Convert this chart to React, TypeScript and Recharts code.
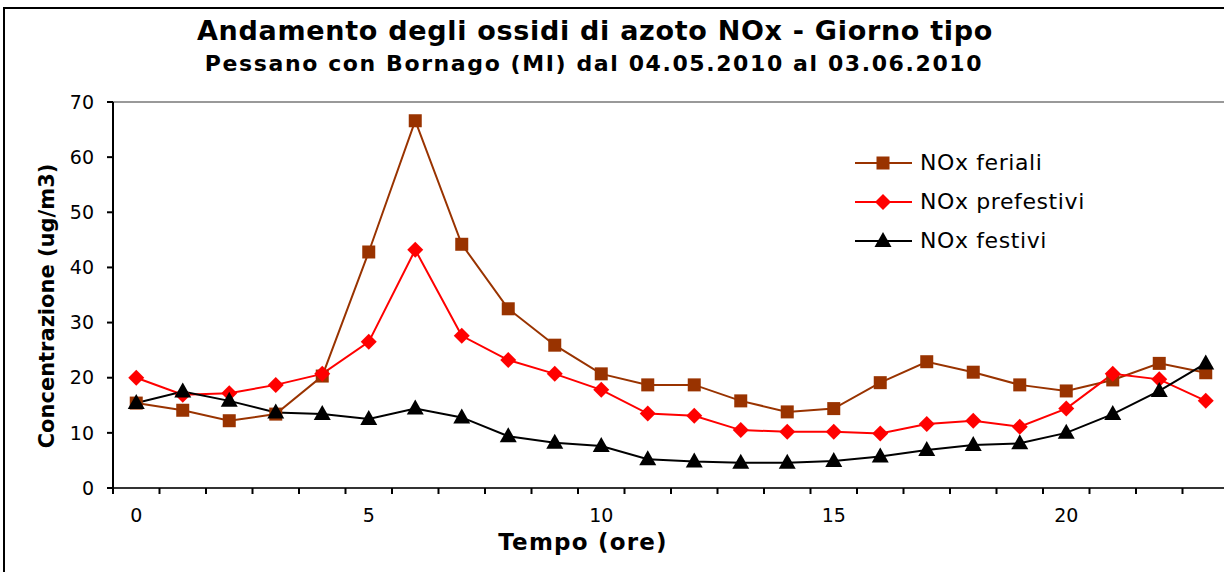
import { LineChart, Line, XAxis, YAxis, ReferenceLine, Legend, Label } from "recharts";

const hours = [0, 1, 2, 3, 4, 5, 6, 7, 8, 9, 10, 11, 12, 13, 14, 15, 16, 17, 18, 19, 20, 21, 22, 23];
const feriali = [15.4, 14.1, 12.2, 13.4, 20.3, 42.8, 66.6, 44.2, 32.5, 25.9, 20.7, 18.7, 18.7, 15.8, 13.8, 14.4, 19.1, 22.9, 21.0, 18.7, 17.6, 19.6, 22.6, 20.9];
const prefestivi = [20.0, 16.9, 17.2, 18.7, 20.7, 26.5, 43.2, 27.6, 23.2, 20.7, 17.8, 13.5, 13.1, 10.5, 10.2, 10.2, 9.9, 11.6, 12.2, 11.1, 14.4, 20.7, 19.7, 15.8];
const festivi = [15.4, 17.5, 15.8, 13.7, 13.4, 12.5, 14.4, 12.8, 9.4, 8.2, 7.6, 5.2, 4.8, 4.6, 4.6, 4.9, 5.7, 6.9, 7.8, 8.1, 10.0, 13.4, 17.6, 22.6];
const xTickLabels = [0, 5, 10, 15, 20];
const yTicks = [0, 10, 20, 30, 40, 50, 60, 70];

const seriesOrder = ["feriali", "prefestivi", "festivi"];
const seriesNames: Record<string, string> = {
  feriali: "NOx feriali",
  prefestivi: "NOx prefestivi",
  festivi: "NOx festivi",
};

const data = hours.map((h, i) => ({
  hour: h,
  feriali: feriali[i],
  prefestivi: prefestivi[i],
  festivi: festivi[i],
}));

// tick marks sit between hours, like Excel's category axis
const boundaries = [...hours.map((h) => h - 0.5), hours[hours.length - 1] + 0.5];
const xTicks = [...boundaries, ...xTickLabels].sort((a, b) => a - b);

const FONT = '"DejaVu Sans", Verdana, sans-serif';
const BROWN = "#993300";
const RED = "#ff0000";

function Marker({ kind, cx, cy }: { kind: string; cx: number; cy: number }) {
  if (kind === "feriali") {
    return <rect x={cx - 6.5} y={cy - 6.5} width={13} height={13} fill={BROWN} />;
  }
  if (kind === "prefestivi") {
    return (
      <polygon
        points={`${cx},${cy - 8} ${cx + 8},${cy} ${cx},${cy + 8} ${cx - 8},${cy}`}
        fill={RED}
      />
    );
  }
  return (
    <polygon
      points={`${cx},${cy - 9} ${cx + 8.5},${cy + 6} ${cx - 8.5},${cy + 6}`}
      fill="#000"
    />
  );
}

const dotFor = (kind: string) => (props: any) => {
  const { cx, cy, index } = props;
  if (cx == null || cy == null) return <g key={`${kind}-${index}`} />;
  return <Marker key={`${kind}-${index}`} kind={kind} cx={cx} cy={cy} />;
};

function XTick(props: any) {
  const { x, y, payload } = props;
  const v = payload.value;
  if (xTickLabels.includes(v)) {
    return (
      <text x={x} y={y} dy={28} textAnchor="middle" fontFamily={FONT} fontSize={19} fill="#000">
        {v}
      </text>
    );
  }
  return <line x1={x} x2={x} y1={y - 6} y2={y} stroke="#000" strokeWidth={2} />;
}

function LegendBox(props: any) {
  const items = [...(props.payload || [])].sort(
    (a: any, b: any) => seriesOrder.indexOf(a.dataKey) - seriesOrder.indexOf(b.dataKey)
  );
  return (
    <div>
      {items.map((it: any) => (
        <div key={it.dataKey} style={{ display: "flex", alignItems: "center", height: 39 }}>
          <svg width={65} height={20}>
            <line x1={0} x2={57} y1={10} y2={10} stroke={it.color} strokeWidth={2} />
            <Marker kind={it.dataKey} cx={28} cy={10} />
          </svg>
          <span
            style={{
              fontFamily: FONT,
              fontSize: 22,
              letterSpacing: 0.6,
              color: "#000",
              whiteSpace: "nowrap",
            }}
          >
            {it.value}
          </span>
        </div>
      ))}
    </div>
  );
}

export default function App() {
  return (
    <div
      style={{
        position: "absolute",
        left: 0,
        top: 0,
        width: 1224,
        height: 572,
        overflow: "hidden",
        background: "#fff",
      }}
    >
      <div
        style={{
          position: "absolute",
          left: 3,
          top: 7,
          width: 1300,
          height: 700,
          border: "2px solid #000",
        }}
      />
      <div
        style={{
          position: "absolute",
          left: 0,
          top: 16,
          width: 1190,
          textAlign: "center",
          fontFamily: FONT,
          fontWeight: "bold",
          fontSize: 27,
          letterSpacing: 0.7,
          lineHeight: "30px",
        }}
      >
        Andamento degli ossidi di azoto NOx - Giorno tipo
      </div>
      <div
        style={{
          position: "absolute",
          left: 0,
          top: 51,
          width: 1188,
          textAlign: "center",
          fontFamily: FONT,
          fontWeight: "bold",
          fontSize: 22,
          letterSpacing: 1.6,
          lineHeight: "26px",
        }}
      >
        Pessano con Bornago (MI) dal 04.05.2010 al 03.06.2010
      </div>
      <div style={{ position: "absolute", left: 0, top: 0 }}>
        <LineChart
          width={1240}
          height={572}
          data={data}
          margin={{ top: 102, right: 11, bottom: 24, left: 0 }}
        >
          <XAxis
            dataKey="hour"
            type="number"
            domain={[-0.5, 23.5]}
            ticks={xTicks}
            interval={0}
            height={60}
            tickSize={6}
            tickMargin={0}
            tickLine={false}
            tick={<XTick />}
            axisLine={{ stroke: "#333", strokeWidth: 2 }}
          >
            <Label
              value="Tempo (ore)"
              position="insideBottom"
              offset={-2}
              dx={-88}
              style={{
                fontFamily: FONT,
                fontWeight: "bold",
                fontSize: 23,
                letterSpacing: 1.2,
                fill: "#000",
              }}
            />
          </XAxis>
          <YAxis
            width={113}
            domain={[0, 70]}
            ticks={yTicks}
            interval={0}
            tickSize={6}
            tickMargin={13}
            tickLine={{ stroke: "#000", strokeWidth: 2 }}
            axisLine={{ stroke: "#000", strokeWidth: 2 }}
            tick={{ fontFamily: FONT, fontSize: 19, fill: "#000" }}
          >
            <Label
              value="Concentrazione (ug/m3)"
              angle={-90}
              position="center"
              dx={-10}
              dy={11}
              style={{ fontFamily: FONT, fontWeight: "bold", fontSize: 21, fill: "#000" }}
            />
          </YAxis>
          <ReferenceLine y={70} stroke="#999" strokeWidth={2} />
          <Legend
            layout="vertical"
            align="center"
            verticalAlign="middle"
            wrapperStyle={{ left: 855, top: 143, width: 280 }}
            content={<LegendBox />}
          />
          <Line
            type="linear"
            dataKey="feriali"
            name={seriesNames.feriali}
            stroke={BROWN}
            strokeWidth={2}
            dot={dotFor("feriali")}
            isAnimationActive={false}
          />
          <Line
            type="linear"
            dataKey="prefestivi"
            name={seriesNames.prefestivi}
            stroke={RED}
            strokeWidth={2}
            dot={dotFor("prefestivi")}
            isAnimationActive={false}
          />
          <Line
            type="linear"
            dataKey="festivi"
            name={seriesNames.festivi}
            stroke="#000"
            strokeWidth={2}
            dot={dotFor("festivi")}
            isAnimationActive={false}
          />
        </LineChart>
      </div>
    </div>
  );
}
